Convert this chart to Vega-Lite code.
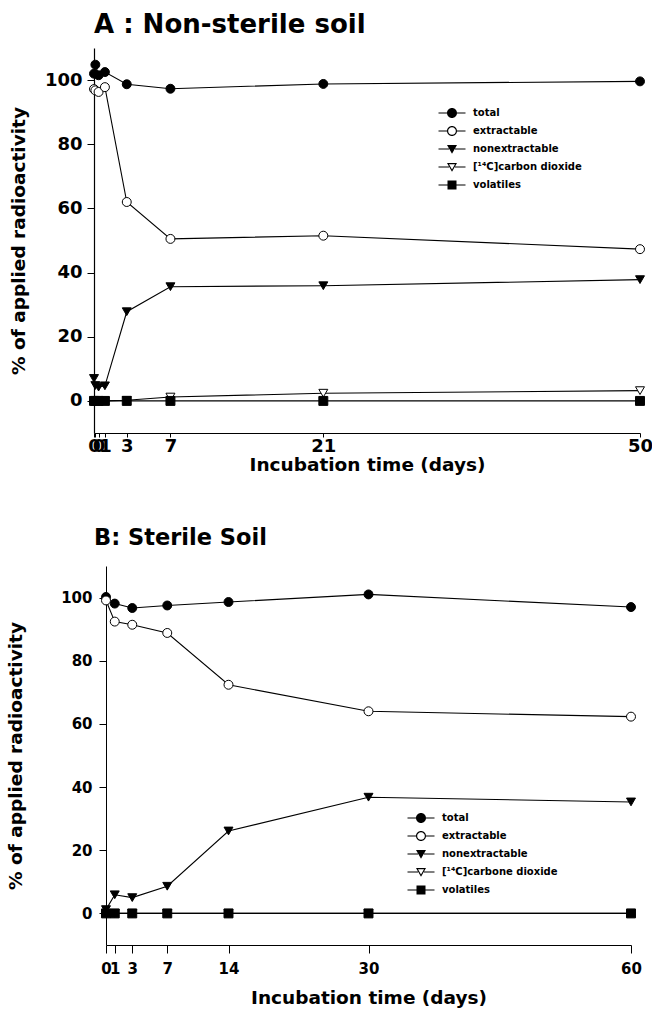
{
  "$schema": "https://vega.github.io/schema/vega-lite/v6.json",
  "background": "white",
  "padding": {"left": 6, "top": 12, "right": 0, "bottom": 2},
  "config": {
    "font": "DejaVu Sans",
    "view": {"stroke": null},
    "axis": {
      "grid": false, "domainColor": "black", "tickColor": "black", "labelColor": "black", "titleColor": "black",
      "labelFontWeight": "bold", "titleFontWeight": "bold", "domainWidth": 1.2, "tickWidth": 1,
      "labelFlush": false, "labelOverlap": false, "titleFontSize": 18.5
    },
    "title": {"fontWeight": "bold", "color": "black", "anchor": "start", "frame": "group"},
    "legend": {"labelFontWeight": "bold", "labelColor": "black", "labelFontSize": 10, "padding": 0, "rowPadding": 8, "labelOffset": 16, "symbolSize": 100, "symbolStrokeWidth": 0, "symbolFillColor": "black"}
  },
  "datasets": {
    "a": [
      {"day": 0, "series": "total", "value": 102},
      {"day": 0.125, "series": "total", "value": 104.8},
      {"day": 0.42, "series": "total", "value": 101.5},
      {"day": 1, "series": "total", "value": 102.5},
      {"day": 3, "series": "total", "value": 98.7},
      {"day": 7, "series": "total", "value": 97.3},
      {"day": 21, "series": "total", "value": 98.8},
      {"day": 50, "series": "total", "value": 99.6},
      {"day": 0, "series": "extractable", "value": 97.2},
      {"day": 0.125, "series": "extractable", "value": 96.8},
      {"day": 0.42, "series": "extractable", "value": 96.3},
      {"day": 1, "series": "extractable", "value": 97.8},
      {"day": 3, "series": "extractable", "value": 62},
      {"day": 7, "series": "extractable", "value": 50.5},
      {"day": 21, "series": "extractable", "value": 51.5},
      {"day": 50, "series": "extractable", "value": 47.3},
      {"day": 0, "series": "nonextractable", "value": 7},
      {"day": 0.125, "series": "nonextractable", "value": 4.8},
      {"day": 0.42, "series": "nonextractable", "value": 4.3},
      {"day": 1, "series": "nonextractable", "value": 4.7},
      {"day": 3, "series": "nonextractable", "value": 27.8},
      {"day": 7, "series": "nonextractable", "value": 35.6},
      {"day": 21, "series": "nonextractable", "value": 35.9},
      {"day": 50, "series": "nonextractable", "value": 37.8},
      {"day": 0, "series": "[¹⁴C]carbon dioxide", "value": 0},
      {"day": 0.125, "series": "[¹⁴C]carbon dioxide", "value": 0},
      {"day": 0.42, "series": "[¹⁴C]carbon dioxide", "value": 0},
      {"day": 1, "series": "[¹⁴C]carbon dioxide", "value": 0},
      {"day": 3, "series": "[¹⁴C]carbon dioxide", "value": 0.2},
      {"day": 7, "series": "[¹⁴C]carbon dioxide", "value": 1.2},
      {"day": 21, "series": "[¹⁴C]carbon dioxide", "value": 2.4},
      {"day": 50, "series": "[¹⁴C]carbon dioxide", "value": 3.2},
      {"day": 0, "series": "volatiles", "value": 0},
      {"day": 0.125, "series": "volatiles", "value": 0},
      {"day": 0.42, "series": "volatiles", "value": 0},
      {"day": 1, "series": "volatiles", "value": 0},
      {"day": 3, "series": "volatiles", "value": 0},
      {"day": 7, "series": "volatiles", "value": 0},
      {"day": 21, "series": "volatiles", "value": 0},
      {"day": 50, "series": "volatiles", "value": 0}
    ],
    "b": [
      {"day": 0, "series": "total", "value": 100.2},
      {"day": 1, "series": "total", "value": 98.1},
      {"day": 3, "series": "total", "value": 96.7},
      {"day": 7, "series": "total", "value": 97.5},
      {"day": 14, "series": "total", "value": 98.6},
      {"day": 30, "series": "total", "value": 101},
      {"day": 60, "series": "total", "value": 97},
      {"day": 0, "series": "extractable", "value": 99.1},
      {"day": 1, "series": "extractable", "value": 92.4},
      {"day": 3, "series": "extractable", "value": 91.4},
      {"day": 7, "series": "extractable", "value": 88.8},
      {"day": 14, "series": "extractable", "value": 72.4},
      {"day": 30, "series": "extractable", "value": 64},
      {"day": 60, "series": "extractable", "value": 62.3},
      {"day": 0, "series": "nonextractable", "value": 1.2},
      {"day": 1, "series": "nonextractable", "value": 5.9},
      {"day": 3, "series": "nonextractable", "value": 5},
      {"day": 7, "series": "nonextractable", "value": 8.6},
      {"day": 14, "series": "nonextractable", "value": 26.1},
      {"day": 30, "series": "nonextractable", "value": 36.8},
      {"day": 60, "series": "nonextractable", "value": 35.3},
      {"day": 0, "series": "[¹⁴C]carbone dioxide", "value": 0},
      {"day": 1, "series": "[¹⁴C]carbone dioxide", "value": 0},
      {"day": 3, "series": "[¹⁴C]carbone dioxide", "value": 0},
      {"day": 7, "series": "[¹⁴C]carbone dioxide", "value": 0},
      {"day": 14, "series": "[¹⁴C]carbone dioxide", "value": 0},
      {"day": 30, "series": "[¹⁴C]carbone dioxide", "value": 0},
      {"day": 60, "series": "[¹⁴C]carbone dioxide", "value": 0},
      {"day": 0, "series": "volatiles", "value": 0},
      {"day": 1, "series": "volatiles", "value": 0},
      {"day": 3, "series": "volatiles", "value": 0},
      {"day": 7, "series": "volatiles", "value": 0},
      {"day": 14, "series": "volatiles", "value": 0},
      {"day": 30, "series": "volatiles", "value": 0},
      {"day": 60, "series": "volatiles", "value": 0}
    ]
  },
  "columns": 1,
  "align": "none",
  "spacing": 52,
  "resolve": {"scale": {"shape": "independent", "fill": "independent", "x": "independent", "y": "independent"}, "legend": {"shape": "independent", "fill": "independent"}},
  "concat": [
    {
      "title": {"text": "A : Non-sterile soil", "fontSize": 26, "offset": 10},
      "width": 546,
      "height": 385,
      "data": {"name": "a"},
      "encoding": {
        "x": {"field": "day", "type": "quantitative", "scale": {"domain": [0, 50], "nice": false, "zero": false},
          "axis": {"title": "Incubation time (days)", "values": [0, 0.125, 0.42, 1, 3, 7, 21, 50], "labelExpr": "datum.value === 0.125 ? '' : format(datum.value, 'd')", "labelFontSize": 18, "tickSize": 4, "labelPadding": 0, "titlePadding": 0}},
        "y": {"field": "value", "type": "quantitative", "scale": {"domain": [-10, 110], "nice": false, "zero": false},
          "axis": {"title": "% of applied radioactivity", "values": [0, 20, 40, 60, 80, 100], "labelFontSize": 18, "tickSize": 7, "labelPadding": 5, "titlePadding": 16}}
      },
      "resolve": {"scale": {"shape": "independent", "fill": "independent"}},
      "layer": [
        {"mark": {"type": "line", "color": "black", "strokeWidth": 1.1}, "encoding": {"detail": {"field": "series"}}},
        {"mark": {"type": "point", "filled": true, "stroke": "black", "strokeWidth": 1, "size": 80, "opacity": 1},
          "encoding": {
            "shape": {"field": "series", "type": "nominal", "legend": null,
              "scale": {"domain": ["total", "extractable", "nonextractable", "[¹⁴C]carbon dioxide", "volatiles"], "range": ["circle", "circle", "triangle-down", "triangle-down", "square"]}},
            "fill": {"field": "series", "type": "nominal", "legend": null,
              "scale": {"domain": ["total", "extractable", "nonextractable", "[¹⁴C]carbon dioxide", "volatiles"], "range": ["black", "white", "black", "white", "black"]}}
          }},
        {"transform": [{"filter": "datum.day < -100"}],
          "mark": {"type": "point", "filled": true, "color": "black", "opacity": 1},
          "encoding": {
            "shape": {"field": "series", "type": "nominal",
              "scale": {"domain": ["total", "extractable", "nonextractable", "[¹⁴C]carbon dioxide", "volatiles"],
                "range": [
                  "M-2.7,-0.12H-1V0.12H-2.7ZM1,-0.12H2.7V0.12H1ZM1,0A1,1,0,1,1,-1,0A1,1,0,1,1,1,0Z",
                  "M-2.7,-0.12H-1V0.12H-2.7ZM1,-0.12H2.7V0.12H1ZM1,0A1,1,0,1,1,-1,0A1,1,0,1,1,1,0ZM0.77,0A0.77,0.77,0,1,0,-0.77,0A0.77,0.77,0,1,0,0.77,0Z",
                  "M-2.7,-0.12H-0.6V0.12H-2.7ZM0.6,-0.12H2.7V0.12H0.6ZM-1,-0.8L1,-0.8L0,0.95Z",
                  "M-2.7,-0.12H-0.6V0.12H-2.7ZM0.6,-0.12H2.7V0.12H0.6ZM-1,-0.8L1,-0.8L0,0.95ZM-0.6,-0.567L0,0.483L0.6,-0.567Z",
                  "M-2.7,-0.12H-0.9V0.12H-2.7ZM0.9,-0.12H2.7V0.12H0.9ZM-0.9,-0.9H0.9V0.9H-0.9Z"
                ]},
              "legend": {"title": null, "orient": "none", "legendX": 353, "legendY": 60}}
          }}
      ]
    },
    {
      "title": {"text": "B: Sterile Soil", "fontSize": 22.5, "offset": 17},
      "width": 537,
      "height": 379,
      "data": {"name": "b"},
      "encoding": {
        "x": {"field": "day", "type": "quantitative", "scale": {"domain": [0, 60], "nice": false, "zero": false, "range": [12, 537]},
          "axis": {"title": "Incubation time (days)", "values": [0, 1, 3, 7, 14, 30, 60], "labelFontSize": 15, "tickSize": 8, "labelPadding": 8, "titlePadding": 12}},
        "y": {"field": "value", "type": "quantitative", "scale": {"domain": [-10, 110], "nice": false, "zero": false},
          "axis": {"title": "% of applied radioactivity", "values": [0, 20, 40, 60, 80, 100], "offset": -12, "labelFontSize": 15, "labelPadding": 7, "titlePadding": 35, "domainWidth": 1, "tickSize": 7}}
      },
      "resolve": {"scale": {"shape": "independent", "fill": "independent"}},
      "layer": [
        {"mark": {"type": "line", "color": "black", "strokeWidth": 1.1}, "encoding": {"detail": {"field": "series"}}},
        {"mark": {"type": "point", "filled": true, "stroke": "black", "strokeWidth": 1, "size": 80, "opacity": 1},
          "encoding": {
            "shape": {"field": "series", "type": "nominal", "legend": null,
              "scale": {"domain": ["total", "extractable", "nonextractable", "[¹⁴C]carbone dioxide", "volatiles"], "range": ["circle", "circle", "triangle-down", "triangle-down", "square"]}},
            "fill": {"field": "series", "type": "nominal", "legend": null,
              "scale": {"domain": ["total", "extractable", "nonextractable", "[¹⁴C]carbone dioxide", "volatiles"], "range": ["black", "white", "black", "white", "black"]}}
          }},
        {"transform": [{"filter": "datum.day < -100"}],
          "mark": {"type": "point", "filled": true, "color": "black", "opacity": 1},
          "encoding": {
            "shape": {"field": "series", "type": "nominal",
              "scale": {"domain": ["total", "extractable", "nonextractable", "[¹⁴C]carbone dioxide", "volatiles"],
                "range": [
                  "M-2.7,-0.12H-1V0.12H-2.7ZM1,-0.12H2.7V0.12H1ZM1,0A1,1,0,1,1,-1,0A1,1,0,1,1,1,0Z",
                  "M-2.7,-0.12H-1V0.12H-2.7ZM1,-0.12H2.7V0.12H1ZM1,0A1,1,0,1,1,-1,0A1,1,0,1,1,1,0ZM0.77,0A0.77,0.77,0,1,0,-0.77,0A0.77,0.77,0,1,0,0.77,0Z",
                  "M-2.7,-0.12H-0.6V0.12H-2.7ZM0.6,-0.12H2.7V0.12H0.6ZM-1,-0.8L1,-0.8L0,0.95Z",
                  "M-2.7,-0.12H-0.6V0.12H-2.7ZM0.6,-0.12H2.7V0.12H0.6ZM-1,-0.8L1,-0.8L0,0.95ZM-0.6,-0.567L0,0.483L0.6,-0.567Z",
                  "M-2.7,-0.12H-0.9V0.12H-2.7ZM0.9,-0.12H2.7V0.12H0.9ZM-0.9,-0.9H0.9V0.9H-0.9Z"
                ]},
              "legend": {"title": null, "orient": "none", "legendX": 322, "legendY": 247}}
          }}
      ]
    }
  ]
}
